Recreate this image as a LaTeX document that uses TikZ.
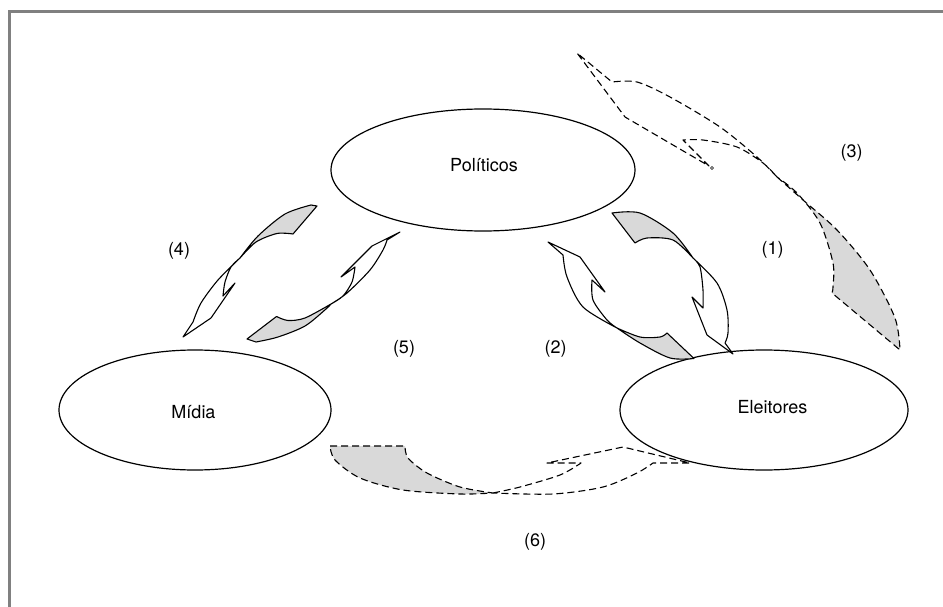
\documentclass[tikz,border=0pt]{standalone}
\usepackage{fontspec}
\setmainfont{TeX Gyre Heros}
\usetikzlibrary{shapes.geometric}
\tikzset{
  frame/.style={draw=black!50, line width=3pt},
  actor/.style={draw, ellipse, line width=1.2pt, inner sep=0pt},
  band/.style={draw, line width=1.1pt, line join=round},
  backside/.style={band, fill=black!15},
  dband/.style={band, dash pattern=on 7pt off 4pt},
  dbackside/.style={dband, fill=black!15},
  lbl/.style={font=\fontsize{18}{20}\selectfont, inner sep=0pt}
}
\begin{document}
\begin{tikzpicture}[x=1pt, y=-1pt]
	\useasboundingbox (0,0) rectangle (943,607);
	\draw[frame] (9,607) -- (9,12) -- (943,12);
	\node[actor, minimum width=304pt, minimum height=122pt] (pol) at (483,170) {};
	\node[actor, minimum width=272pt, minimum height=120pt] (mid) at (195,410) {};
	\node[actor, minimum width=288pt, minimum height=120pt] (ele) at (764,410) {};
	\node[lbl, anchor=base] (poltxt) at (484,171.5) {Políticos};
	\node[lbl, anchor=base] (midtxt) at (193.5,418) {Mídia};
	\node[lbl, anchor=base] (eletxt) at (772.5,413.5) {Eleitores};
	\node[lbl] (n1) at (772.5,250) {(1)};
	\node[lbl] (n2) at (555.5,349) {(2)};
	\node[lbl] (n3) at (851.5,153) {(3)};
	\node[lbl] (n4) at (179,251) {(4)};
	\node[lbl] (n5) at (404,348.5) {(5)};
	\node[lbl] (n6) at (535,542) {(6)};
	% (4) politicos to midia
	\path[backside] plot[smooth] coordinates {(240,258) (258,236) (285,214) (311,205)} -- (317,206) -- plot[smooth] coordinates {(293,234) (277,233.5) (256,242) (240,258)} -- cycle;
	\path[band] plot[smooth] coordinates {(240,258) (218,280) (201,303) (193,322)} -- (183,337) -- (211,318) -- (235,283) -- (223,296) -- plot[smooth] coordinates {(223,296) (225,282) (231,267) (240,258)};
	% (5) midia to politicos
	\path[backside] plot[smooth] coordinates {(331,304) (326,309) (305,326) (278,337) (256,342)} -- (247,339) -- plot[smooth] coordinates {(276.5,316.5) (288,320.5) (305,318) (331,304)} -- cycle;
	\path[band] plot[smooth] coordinates {(331,304) (347,293) (370,270) (383,250) (387,240)} -- (400,232) -- (372,246) -- (341,277) -- (355,267) -- plot[smooth] coordinates {(355,267) (352,282) (343,296) (331,304)};
	% (2) eleitores to politicos
	\path[backside] plot[smooth] coordinates {(617,328) (640,337) (660,337) (667,333)} -- (694,358.5) -- plot[smooth] coordinates {(694,358.5) (670,358) (640,343) (617,328)} -- cycle;
	\path[band] plot[smooth] coordinates {(617,328) (583,307) (567,277) (563,255)} -- (548,242) -- (580,257) -- (605,292) -- (592,280) -- plot[smooth] coordinates {(592,280) (593,300) (607,320) (617,328)};
	% (1) politicos to eleitores
	\path[backside] (635,243) -- plot[smooth] coordinates {(612,213) (640,213) (673,233) (693,258)} -- plot[smooth] coordinates {(693,258) (673,240) (647,238) (635,243)} -- cycle;
	\path[band] plot[smooth] coordinates {(693,258) (717,283) (727,310) (728,333) (725,343)} -- (733,354) -- (707,335) -- (692,297) -- (703,308) -- plot[smooth] coordinates {(703,308) (703,290) (700,267) (693,258)};
	% (3) eleitores to politicos
	\path[dbackside] plot[smooth] coordinates {(777,177) (803,200) (837,230) (870,270) (895,318) (900,350)} -- (832,293) -- plot[smooth] coordinates {(832,293) (833,287) (833,263) (820,223) (797,193) (777,177)} -- cycle;
	\path[dband] plot[smooth] coordinates {(777,177) (757,157) (720,127) (670,97) (637,82) (612,82)} -- (577,53) -- (625,117) -- (709,166) -- (683,140) -- plot[smooth] coordinates {(683,140) (703,140) (737,147) (763,163) (777,177)};
	\draw[line width=0.5pt] (712,168) circle (1.5pt);
	% (6) midia to eleitores
	\path[dbackside] (330,446) -- (405,446) -- plot[smooth] coordinates {(405,446) (408,458) (427,473) (460,487) (493,493)} -- plot[smooth] coordinates {(493,493) (460,494) (403,490) (360,478) (335,460) (330,446)} -- cycle;
	\path[dband] plot[smooth] coordinates {(493,493) (520,487) (560,475) (581,463)} -- (547,463) -- (623,447) -- (690,463) -- (653,463) -- plot[smooth] coordinates {(653,463) (637,473) (603,487) (553,494) (493,493)};
\end{tikzpicture}
\end{document}
